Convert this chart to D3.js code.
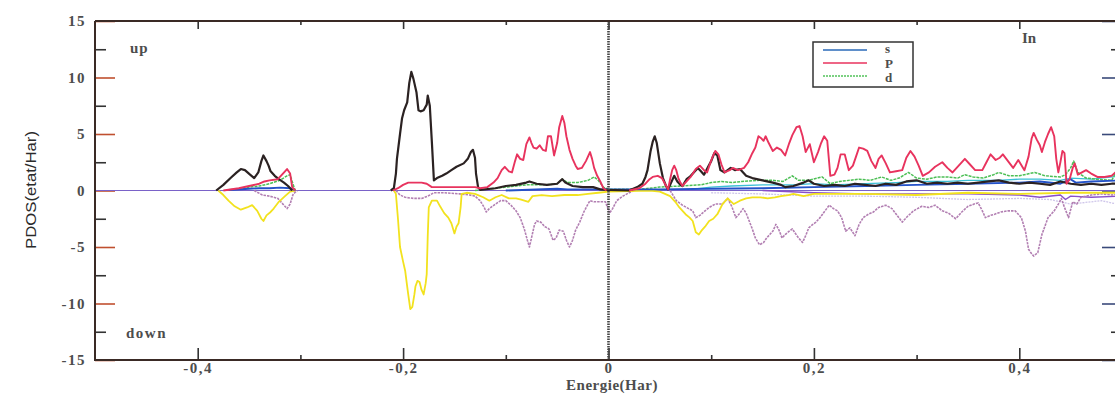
<!DOCTYPE html>
<html>
<head>
<meta charset="utf-8">
<script src="https://cdn.jsdelivr.net/npm/d3@7"></script>
<style>
  body { margin: 0; background: #fff; }
  svg { display: block; }
</style>
</head>
<body>
<div id="container"></div>
<script>
// ---- data (energy in Hartree, PDOS in etat/Har); null = gap in the curve ----
const xMajor = [-0.4, -0.2, 0, 0.2, 0.4];
const xMinor = [-0.3, -0.1, 0.1, 0.3];
const yMajor = [-15, -10, -5, 0, 5, 10, 15];
const yMinor = [-12.5, -7.5, -2.5, 2.5, 7.5, 12.5];
const legendNames = ["s", "P", "d"];

const blackUp = [[-0.382,0],[-0.375,0.5],[-0.368,1.1],[-0.362,1.6],[-0.358,1.9],[-0.354,1.8],[-0.349,1.4],[-0.345,1.1],[-0.341,1.6],[-0.338,2.6],[-0.336,3.1],[-0.333,2.6],[-0.331,2.2],[-0.329,1.7],[-0.325,1.3],[-0.321,1.0],[-0.316,0.7],[-0.312,0.4],[-0.308,0],[-0.3,null],
  [-0.212,0],[-0.209,0.2],[-0.207,1.5],[-0.206,2.8],[-0.203,5.0],[-0.201,6.4],[-0.199,7.1],[-0.196,7.8],[-0.194,9.5],[-0.192,10.5],[-0.190,9.9],[-0.187,8.7],[-0.185,7.1],[-0.183,7.0],[-0.180,7.1],[-0.177,7.6],[-0.176,8.4],[-0.174,7.5],[-0.172,4.3],[-0.170,0.9],[-0.167,1.1],[-0.162,1.3],[-0.158,1.5],[-0.153,1.8],[-0.148,2.1],[-0.141,2.4],[-0.137,2.8],[-0.134,3.4],[-0.132,3.6],[-0.130,2.9],[-0.129,1.5],[-0.127,0.3],[-0.125,0.05],
  [-0.11,0.2],[-0.1,0.4],[-0.09,0.5],[-0.08,0.7],[-0.077,0.8],[-0.07,0.6],[-0.06,0.5],[-0.05,0.6],[-0.045,1.0],[-0.042,0.7],[-0.035,0.4],[-0.025,0.3],[-0.015,0.3],[-0.008,0.1],[0,0.05],[0.02,0],
  [0.028,0.3],[0.033,0.6],[0.036,1.2],[0.038,1.8],[0.041,3.5],[0.043,4.3],[0.045,4.8],[0.047,4.2],[0.049,3.0],[0.050,2.4],[0.053,1.1],[0.056,0.4],[0.058,0.1],[0.061,0.7],[0.064,1.3],[0.067,0.8],[0.070,0.5],[0.072,0.4],[0.076,1.0],[0.079,1.2],[0.083,1.6],[0.087,2.0],[0.090,1.7],[0.093,1.4],[0.097,2.1],[0.100,2.6],[0.103,3.3],[0.106,3.1],[0.109,1.8],[0.113,1.6],[0.119,2.0],[0.123,1.8],[0.128,1.9],[0.134,1.3],[0.140,1.1],[0.150,0.9],[0.160,0.7],[0.168,0.5],[0.172,0.3],[0.180,0.4],[0.190,0.7],[0.195,0.9],[0.200,0.6],[0.210,0.4],[0.220,0.5],[0.230,0.4],[0.240,0.6],[0.250,0.5],[0.260,0.4],[0.270,0.6],[0.280,0.5],[0.290,0.8],[0.300,0.9],[0.310,0.6],[0.320,0.7],[0.330,0.6],[0.340,0.7],[0.350,0.6],[0.360,0.7],[0.370,0.8],[0.380,0.9],[0.390,0.7],[0.400,0.6],[0.410,0.7],[0.420,0.6],[0.430,0.5],[0.440,0.8],[0.450,0.6],[0.460,0.5],[0.470,0.6],[0.480,0.5],[0.490,0.6],[0.500,0.6]];

const pUp = [[-0.375,0],[-0.36,0.2],[-0.35,0.4],[-0.34,0.6],[-0.335,0.8],[-0.33,0.9],[-0.322,1.0],[-0.317,1.5],[-0.313,1.9],[-0.310,1.5],[-0.308,0.3],[-0.305,0],[-0.3,null],
  [-0.21,0],[-0.205,0.2],[-0.200,0.5],[-0.195,0.7],[-0.19,0.7],[-0.182,0.7],[-0.177,0.6],[-0.172,0.3],[-0.16,0.3],[-0.14,0.3],[-0.13,0.3],[-0.125,0.2],[-0.118,0.3],[-0.112,0.7],[-0.108,1.1],[-0.104,1.8],[-0.101,2.1],[-0.097,1.7],[-0.094,1.6],[-0.091,2.6],[-0.089,3.2],[-0.086,2.8],[-0.083,2.7],[-0.080,4.1],[-0.077,4.7],[-0.075,4.2],[-0.073,3.8],[-0.070,3.7],[-0.067,4.0],[-0.064,3.6],[-0.061,3.5],[-0.059,4.8],[-0.056,4.8],[-0.053,3.1],[-0.050,4.2],[-0.048,5.6],[-0.045,6.6],[-0.043,6.0],[-0.041,4.8],[-0.038,3.6],[-0.035,2.8],[-0.032,2.2],[-0.030,1.9],[-0.026,2.0],[-0.022,2.6],[-0.018,3.4],[-0.016,2.8],[-0.014,2.0],[-0.011,1.3],[-0.008,0.8],[-0.005,0.2],[-0.002,0],[0.01,null],
  [0.02,0],[0.03,0.2],[0.036,0.6],[0.040,1.0],[0.043,1.2],[0.048,1.3],[0.052,1.1],[0.055,0.6],[0.058,0.1],[0.060,1.0],[0.062,1.8],[0.064,2.2],[0.066,1.8],[0.068,1.1],[0.070,0.7],[0.072,0.4],[0.076,0.8],[0.080,1.2],[0.085,1.9],[0.089,2.2],[0.093,1.8],[0.096,1.6],[0.099,2.4],[0.101,2.9],[0.104,3.5],[0.107,3.2],[0.110,2.3],[0.113,1.6],[0.118,1.8],[0.121,2.0],[0.126,1.8],[0.132,2.0],[0.136,2.5],[0.140,3.3],[0.143,3.8],[0.146,4.8],[0.149,4.6],[0.151,4.4],[0.153,4.8],[0.156,4.2],[0.160,3.5],[0.164,3.8],[0.168,3.6],[0.172,3.1],[0.176,4.2],[0.179,4.9],[0.183,5.6],[0.186,5.7],[0.189,4.8],[0.192,3.4],[0.196,4.1],[0.200,2.5],[0.204,3.4],[0.207,4.2],[0.210,4.8],[0.213,4.4],[0.216,1.3],[0.220,1.4],[0.223,2.0],[0.226,3.2],[0.230,3.2],[0.234,1.8],[0.238,2.2],[0.241,3.0],[0.244,3.8],[0.248,3.7],[0.252,3.5],[0.256,2.6],[0.260,2.0],[0.263,2.8],[0.266,3.1],[0.270,2.4],[0.274,1.6],[0.280,1.7],[0.286,1.8],[0.290,2.9],[0.294,3.5],[0.298,3.0],[0.302,2.2],[0.306,1.3],[0.312,1.6],[0.318,2.1],[0.325,2.5],[0.330,2.0],[0.335,1.6],[0.341,2.2],[0.347,2.8],[0.352,2.3],[0.357,1.8],[0.364,1.8],[0.368,2.5],[0.372,3.2],[0.377,2.7],[0.381,2.9],[0.384,3.2],[0.389,2.6],[0.394,2.0],[0.399,2.7],[0.405,1.8],[0.409,3.0],[0.412,4.6],[0.414,5.1],[0.417,4.5],[0.420,4.0],[0.422,3.4],[0.425,4.3],[0.428,5.0],[0.431,5.6],[0.434,4.8],[0.436,2.8],[0.438,1.6],[0.440,2.5],[0.442,3.5],[0.444,3.3],[0.446,0.6],[0.449,1.0],[0.452,2.0],[0.454,2.4],[0.457,1.4],[0.461,1.6],[0.465,1.8],[0.470,1.5],[0.476,1.2],[0.483,1.2],[0.490,1.3],[0.496,1.8],[0.500,2.0]];

const dUp = [[-0.36,0.1],[-0.35,0.3],[-0.34,0.4],[-0.33,0.6],[-0.32,0.9],[-0.313,1.3],[-0.31,1.4],[-0.307,0.5],[-0.305,0],[-0.3,null],
  [-0.13,0],[-0.11,0.2],[-0.1,0.3],[-0.09,0.4],[-0.08,0.5],[-0.07,0.5],[-0.06,0.5],[-0.05,0.6],[-0.045,1.0],[-0.04,0.7],[-0.03,0.7],[-0.02,0.9],[-0.014,1.2],[-0.01,0.9],[-0.005,0.3],[0,0.1],[0.03,0.1],[0.05,0.3],[0.07,0.4],[0.09,0.5],[0.1,0.7],[0.11,0.8],[0.12,0.7],[0.13,0.8],[0.147,0.9],[0.16,0.9],[0.17,0.8],[0.179,1.3],[0.185,0.9],[0.195,0.9],[0.208,1.2],[0.216,0.6],[0.225,0.8],[0.244,1.0],[0.255,0.9],[0.266,1.2],[0.275,0.9],[0.283,1.1],[0.292,1.6],[0.3,1.1],[0.31,1.0],[0.32,1.2],[0.33,1.2],[0.34,1.1],[0.347,1.4],[0.355,1.2],[0.365,1.1],[0.375,1.4],[0.38,1.6],[0.39,1.3],[0.4,1.3],[0.41,1.5],[0.415,1.6],[0.425,1.3],[0.44,1.2],[0.445,1.4],[0.45,2.0],[0.453,2.6],[0.457,1.6],[0.465,1.1],[0.475,1.0],[0.49,0.9],[0.495,1.8],[0.5,2.6]];

const cyanUp = [[0.08,0.1],[0.1,0.3],[0.12,0.4],[0.15,0.5],[0.18,0.5],[0.2,0.6],[0.22,0.5],[0.25,0.6],[0.28,0.7],[0.3,0.8],[0.33,0.8],[0.35,0.9],[0.38,0.9],[0.4,1.0],[0.42,1.0],[0.44,0.9],[0.45,1.1],[0.47,1.0],[0.5,1.3]];

const sUp = [[-0.37,0.05],[-0.35,0.15],[-0.34,0.2],[-0.33,0.2],[-0.32,0.25],[-0.31,0.2],[-0.305,0],[-0.3,null],[-0.1,0],[-0.05,0.15],[-0.04,0.1],[0,0.1],[0.05,0.1],[0.1,0.15],[0.15,0.2],[0.2,0.3],[0.25,0.4],[0.3,0.5],[0.35,0.6],[0.4,0.7],[0.42,0.8],[0.44,0.6],[0.45,1.0],[0.455,0.7],[0.47,0.8],[0.5,0.9]];

const yellowDn = [[-0.38,0],[-0.375,-0.4],[-0.37,-0.9],[-0.364,-1.4],[-0.358,-1.7],[-0.352,-1.5],[-0.347,-1.3],[-0.342,-1.8],[-0.338,-2.5],[-0.336,-2.7],[-0.333,-2.2],[-0.329,-1.9],[-0.326,-1.6],[-0.321,-1.0],[-0.315,-0.5],[-0.31,-0.1],[-0.305,0],[-0.3,null],
  [-0.209,0],[-0.207,-0.3],[-0.205,-2.5],[-0.203,-5.0],[-0.200,-6.3],[-0.198,-7.1],[-0.196,-8.5],[-0.195,-9.2],[-0.193,-10.5],[-0.191,-10.3],[-0.189,-9.2],[-0.188,-8.5],[-0.186,-8.0],[-0.184,-8.1],[-0.182,-8.8],[-0.180,-9.2],[-0.178,-8.2],[-0.177,-7.4],[-0.176,-4.0],[-0.175,-1.5],[-0.172,-0.9],[-0.167,-0.9],[-0.164,-1.4],[-0.160,-2.0],[-0.156,-2.4],[-0.153,-2.9],[-0.151,-3.5],[-0.150,-3.8],[-0.148,-3.2],[-0.146,-2.9],[-0.144,-1.5],[-0.143,-0.3],[-0.138,-0.2],[-0.13,-0.3],[-0.122,-0.6],[-0.116,-0.9],[-0.11,-0.6],[-0.104,-0.4],[-0.097,-0.7],[-0.09,-0.7],[-0.085,-0.8],[-0.078,-1.0],[-0.074,-0.5],[-0.065,-0.4],[-0.055,-0.5],[-0.043,-0.4],[-0.03,-0.4],[-0.02,-0.3],[-0.01,-0.2],[0,-0.1],[0.04,0],[0.05,-0.1],[0.055,-0.3],[0.06,-0.5],[0.065,-1.0],[0.069,-1.5],[0.075,-2.1],[0.079,-2.4],[0.082,-2.7],[0.085,-3.7],[0.088,-3.9],[0.091,-3.5],[0.094,-3.2],[0.098,-2.7],[0.102,-2.5],[0.106,-2.1],[0.111,-1.2],[0.116,-0.7],[0.122,-1.2],[0.128,-0.9],[0.134,-0.7],[0.14,-0.6],[0.148,-0.6],[0.155,-0.7],[0.162,-0.6],[0.168,-0.5],[0.175,-0.4],[0.18,-0.3],[0.19,-0.5],[0.2,-0.3],[0.25,-0.3],[0.3,-0.4],[0.35,-0.2],[0.4,-0.3],[0.45,-0.2],[0.5,-0.2]];

const lilacDn = [[-0.345,0],[-0.337,-0.4],[-0.33,-0.5],[-0.322,-0.7],[-0.318,-1.1],[-0.313,-1.6],[-0.310,-1.2],[-0.307,-0.3],[-0.303,0],[-0.3,null],
  [-0.207,0],[-0.203,-0.4],[-0.198,-0.6],[-0.19,-0.7],[-0.182,-0.7],[-0.176,-0.5],[-0.17,-0.2],[-0.16,-0.2],[-0.145,-0.3],[-0.135,-0.4],[-0.13,-0.5],[-0.125,-0.9],[-0.121,-1.5],[-0.119,-1.9],[-0.116,-1.6],[-0.11,-1.2],[-0.105,-0.9],[-0.1,-0.9],[-0.095,-1.3],[-0.09,-1.8],[-0.086,-2.4],[-0.082,-3.4],[-0.079,-4.4],[-0.077,-5.0],[-0.075,-4.2],[-0.072,-3.0],[-0.070,-2.7],[-0.066,-2.8],[-0.062,-3.2],[-0.058,-3.4],[-0.054,-4.4],[-0.051,-4.2],[-0.048,-3.5],[-0.044,-3.6],[-0.041,-4.4],[-0.038,-5.0],[-0.035,-4.4],[-0.032,-3.5],[-0.028,-2.8],[-0.024,-1.9],[-0.020,-1.2],[-0.018,-0.9],[-0.014,-1.0],[-0.008,-1.0],[-0.003,-1.0],[0.001,-2.0],[0.004,-1.6],[0.008,-0.9],[0.014,-0.5],[0.02,-0.2],[0.025,0],[0.04,null],[0.06,0],[0.066,-0.9],[0.072,-1.3],[0.078,-1.6],[0.082,-1.8],[0.085,-2.4],[0.089,-2.2],[0.094,-1.8],[0.098,-1.5],[0.104,-1.2],[0.111,-1.2],[0.116,-0.7],[0.12,-1.4],[0.124,-2.4],[0.128,-2.0],[0.131,-1.6],[0.134,-2.0],[0.137,-2.7],[0.140,-3.4],[0.143,-4.2],[0.147,-4.8],[0.151,-4.6],[0.154,-4.2],[0.157,-3.9],[0.160,-3.6],[0.163,-3.0],[0.166,-3.5],[0.169,-4.2],[0.172,-3.9],[0.176,-3.6],[0.179,-3.4],[0.182,-3.8],[0.185,-4.2],[0.189,-4.6],[0.192,-4.0],[0.195,-3.3],[0.199,-3.0],[0.202,-2.8],[0.206,-2.4],[0.210,-1.9],[0.215,-1.3],[0.219,-1.6],[0.223,-1.8],[0.227,-2.4],[0.231,-3.6],[0.235,-3.3],[0.240,-4.0],[0.244,-3.0],[0.248,-2.4],[0.253,-2.1],[0.258,-1.9],[0.263,-1.5],[0.270,-1.3],[0.276,-1.6],[0.281,-2.2],[0.286,-2.8],[0.291,-2.3],[0.297,-1.8],[0.305,-1.4],[0.312,-1.5],[0.318,-1.3],[0.325,-1.8],[0.331,-2.0],[0.338,-2.5],[0.344,-1.9],[0.350,-1.4],[0.356,-1.2],[0.360,-1.1],[0.364,-1.8],[0.367,-2.4],[0.372,-2.2],[0.376,-2.1],[0.382,-1.9],[0.389,-1.8],[0.396,-1.8],[0.402,-2.4],[0.406,-3.6],[0.409,-5.2],[0.412,-5.6],[0.414,-5.8],[0.418,-5.5],[0.422,-3.9],[0.428,-2.4],[0.434,-1.8],[0.438,-1.2],[0.441,-0.7],[0.444,-1.5],[0.448,-2.4],[0.452,-1.0],[0.456,-1.2],[0.460,-0.6],[0.470,-0.4],[0.480,-0.3],[0.490,-0.4],[0.5,-0.3]];

const purpleDn = [[0.15,0],[0.2,-0.2],[0.25,-0.3],[0.3,-0.3],[0.35,-0.3],[0.4,-0.4],[0.42,-0.6],[0.44,-0.4],[0.445,-0.8],[0.45,-0.5],[0.47,-0.6],[0.5,-0.5]];
const lavenderDn = [[0.1,-0.2],[0.15,-0.3],[0.2,-0.5],[0.25,-0.5],[0.3,-0.6],[0.35,-0.8],[0.4,-0.7],[0.43,-0.8],[0.45,-1.2],[0.48,-0.9],[0.5,-1.3]];

// ---- drawing ----
const w = 1115, h = 394;
const padL = 95, padR = 1122, padT = 21, padB = 360;
const serif = '"Liberation Serif", "Times New Roman", "DejaVu Serif", serif';

const svg = d3.select('#container').append('svg')
    .attr('width', w)
    .attr('height', h);

const xScale = d3.scaleLinear().domain([-0.5, 0.5]).range([padL, padR]);
const yScale = d3.scaleLinear().domain([-15, 15]).range([padB, padT]);

const fmt = d => d === 0 ? "0" : String(d).replace(".", ",");

// axes
const axisG = (axis, tx, ty) => svg.append('g')
    .attr('transform', `translate(${tx},${ty})`)
    .call(axis);

const styleAxis = (g, tickColor) => {
    g.select('.domain').remove();
    g.selectAll('.tick line').attr('stroke', tickColor).attr('stroke-width', 1.6);
    g.selectAll('text')
        .style('font-family', serif)
        .style('font-weight', 'bold')
        .style('font-size', '15px')
        .style('fill', '#4d4d4d')
        .style('letter-spacing', '1.5px');
};

styleAxis(axisG(d3.axisLeft(yScale).tickValues(yMajor).tickSize(-20).tickPadding(9).tickFormat(d => d), padL, 0), '#c0502f');
styleAxis(axisG(d3.axisLeft(yScale).tickValues(yMinor).tickSize(-11).tickFormat(''), padL, 0), '#333');
styleAxis(axisG(d3.axisRight(yScale).tickValues(yMajor).tickSize(-20).tickFormat(''), padR, 0), '#3a4a7a');
styleAxis(axisG(d3.axisRight(yScale).tickValues(yMinor).tickSize(-11).tickFormat(''), padR, 0), '#333');
styleAxis(axisG(d3.axisBottom(xScale).tickValues(xMajor).tickSize(-12).tickPadding(2).tickFormat(fmt), 0, padB), '#333');
styleAxis(axisG(d3.axisBottom(xScale).tickValues(xMinor).tickSize(-5).tickFormat(''), 0, padB), '#333');
styleAxis(axisG(d3.axisTop(xScale).tickValues(xMajor).tickSize(-8).tickFormat(''), 0, padT), '#333');
styleAxis(axisG(d3.axisTop(xScale).tickValues(xMinor).tickSize(-4).tickFormat(''), 0, padT), '#333');

// zero line
svg.append('line')
    .attr('x1', xScale(-0.5)).attr('x2', xScale(0.5))
    .attr('y1', yScale(0)).attr('y2', yScale(0))
    .attr('stroke', '#7a62c8').attr('stroke-width', 1.2);

// curves
const line = d3.line()
    .defined(d => d[1] !== null)
    .x(d => xScale(d[0]))
    .y(d => yScale(d[1]));

const series = [
    { data: lavenderDn, color: '#cfc6ea', width: 1.3, dash: '2,1' },
    { data: purpleDn, color: '#8a4fc8', width: 1.4 },
    { data: lilacDn, color: '#b27fb2', width: 1.6, dash: '2.5,1' },
    { data: yellowDn, color: '#f2e21e', width: 1.8 },
    { data: cyanUp, color: '#3cbfd6', width: 1.3 },
    { data: dUp, color: '#4cbf55', width: 1.5, dash: '3,1' },
    { data: sUp, color: '#2452c8', width: 1.9 },
    { data: blackUp, color: '#2b2222', width: 2.2 },
    { data: pUp, color: '#e8335e', width: 1.9 }
];

svg.selectAll('.curve')
    .data(series)
    .enter()
    .append('path')
    .attr('class', 'curve')
    .attr('d', d => line(d.data))
    .attr('fill', 'none')
    .attr('stroke', d => d.color)
    .attr('stroke-width', d => d.width)
    .attr('stroke-dasharray', d => d.dash || null)
    .attr('stroke-linejoin', 'round');

// Fermi level
svg.append('line')
    .attr('x1', xScale(0)).attr('x2', xScale(0))
    .attr('y1', padT).attr('y2', padB)
    .attr('stroke', '#444').attr('stroke-width', 2.6)
    .attr('stroke-dasharray', '1.5,1');

// frame
svg.append('path')
    .attr('d', `M${padL},${padT}H${padR}M${padL},${padT}V${padB}H${padR}`)
    .attr('fill', 'none')
    .attr('stroke', '#3a2a25')
    .attr('stroke-width', 2);

// texts
const txt = (s, x, y, size) => svg.append('text')
    .attr('x', x).attr('y', y)
    .style('font-family', serif)
    .style('font-weight', 'bold')
    .style('font-size', size + 'px')
    .style('fill', '#4d4d4d')
    .text(s);

txt('up', 130, 53, 15).style('letter-spacing', '1px');
txt('down', 126, 338, 15).style('letter-spacing', '1.5px');
txt('In', 1022, 43, 15);
txt('Energie(Har)', 612, 390, 15)
    .attr('text-anchor', 'middle')
    .style('letter-spacing', '0.5px');

svg.append('text')
    .attr('transform', 'translate(36,190) rotate(-90)')
    .attr('text-anchor', 'middle')
    .attr('font-family', '"Liberation Sans Narrow", "Liberation Sans", sans-serif')
    .attr('font-size', 15)
    .attr('fill', '#2a2a2a')
    .attr('textLength', 118)
    .attr('lengthAdjust', 'spacingAndGlyphs')
    .text('PDOS(etat/Har)');

// legend
const legendColors = ['#2a6ab8', '#e8335e', '#52c25a'];
const lg = svg.append('g').attr('transform', 'translate(813,42)');
lg.append('rect').attr('width', 100).attr('height', 45)
    .attr('fill', '#fff').attr('stroke', '#333').attr('stroke-width', 1.5);
lg.selectAll('.lgl').data(legendNames).enter().append('line')
    .attr('x1', 10).attr('x2', 54)
    .attr('y1', (d, i) => 8 + i * 13).attr('y2', (d, i) => 8 + i * 13)
    .attr('stroke', (d, i) => legendColors[i])
    .attr('stroke-width', 1.3)
    .attr('stroke-dasharray', (d, i) => i === 2 ? '2,1' : null);
lg.selectAll('.lgt').data(legendNames).enter().append('text')
    .attr('x', 72).attr('y', (d, i) => 11 + i * 14.5)
    .style('font-family', serif)
    .style('font-weight', 'bold')
    .style('font-size', '13px')
    .style('fill', '#4d4d4d')
    .text(d => d);
</script>
</body>
</html>
